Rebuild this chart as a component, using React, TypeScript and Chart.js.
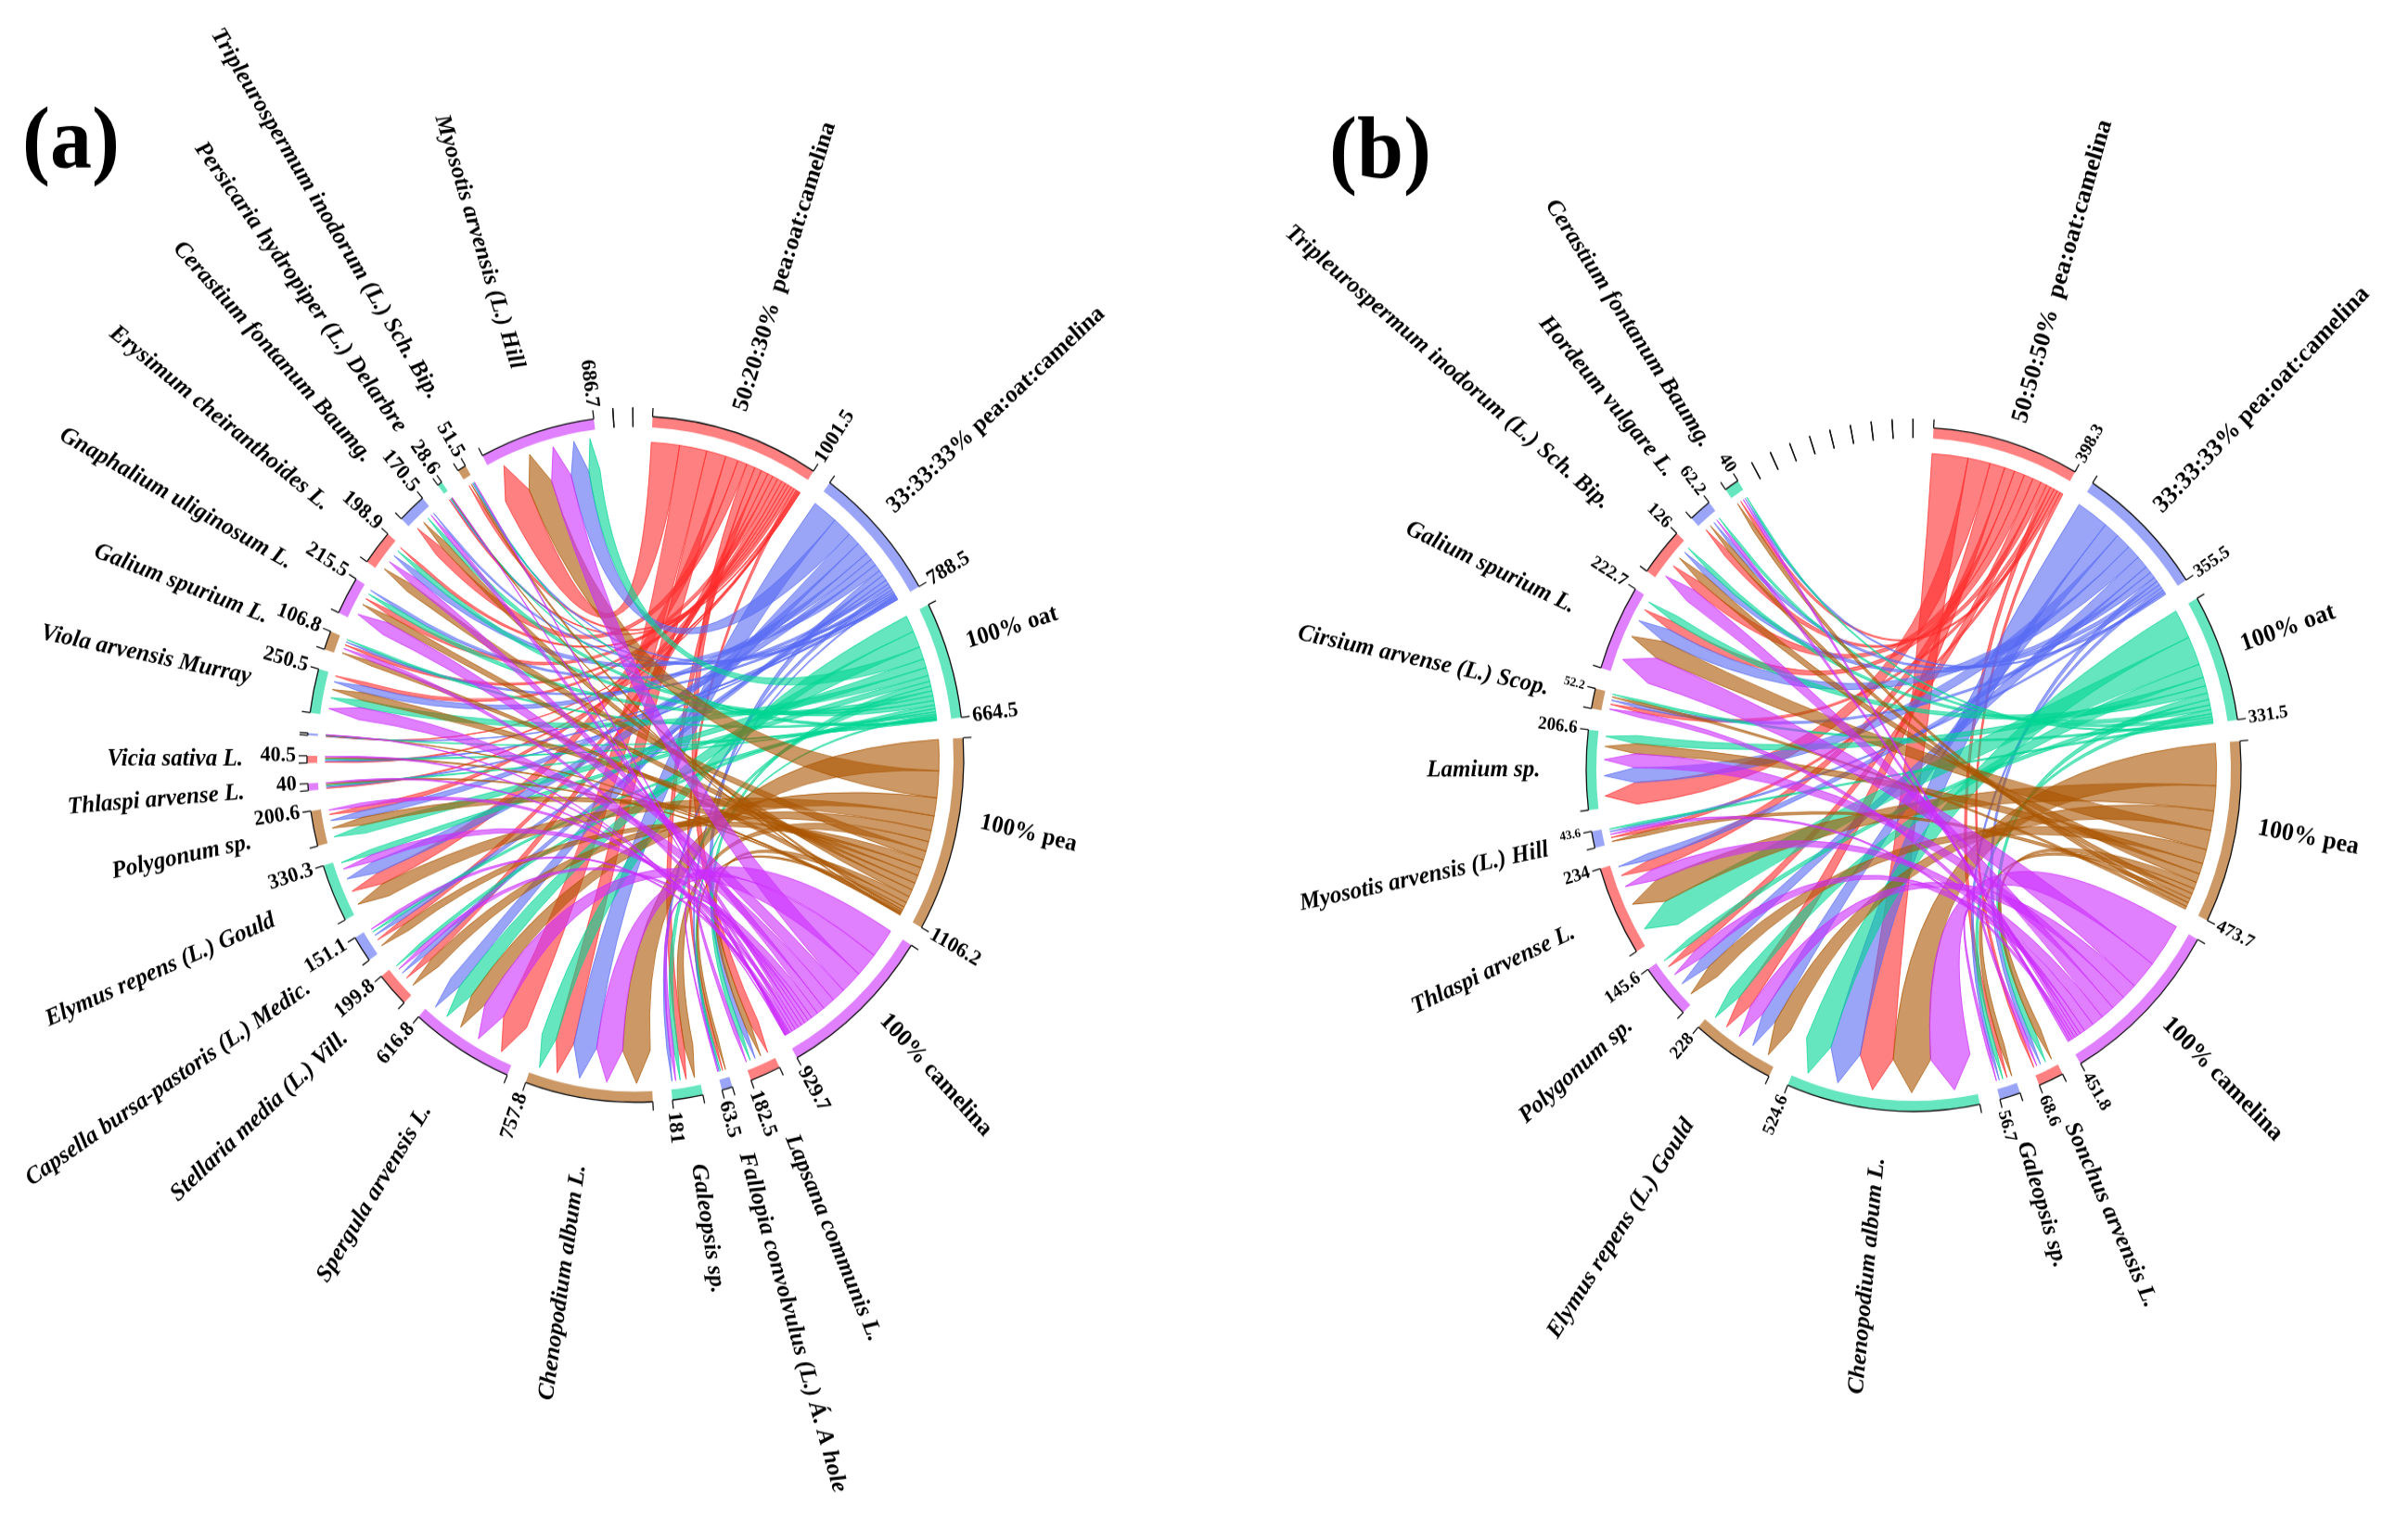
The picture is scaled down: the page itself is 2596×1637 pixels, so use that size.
import React, { useEffect, useRef } from "react";
import { Chart, registerables } from "chart.js";
Chart.register(...registerables);

const treatmentsA = ["50:20:30%  pea:oat:camelina", "33:33:33% pea:oat:camelina", "100% oat", "100% pea", "100% camelina"];
const treatmentTotalsA = [1001.5, 788.5, 664.5, 1106.2, 929.7];
const speciesA = ["Lapsana communis L.", "Fallopia convolvulus (L.) Á. A hole", "Galeopsis sp.", "Chenopodium album L.", "Spergula arvensis L.", "Stellaria media (L.) Vill.", "Capsella bursa-pastoris (L.) Medic.", "Elymus repens (L.) Gould", "Polygonum sp.", "Thlaspi arvense L.", "Vicia sativa L.", "", "Viola arvensis Murray", "Galium spurium L.", "Gnaphalium uliginosum L.", "Erysimum cheiranthoides L.", "Cerastium fontanum Baumg.", "Persicaria hydropiper (L.) Delarbre", "Tripleurospermum inodorum (L.) Sch. Bip.", "Myosotis arvensis (L.) Hill", "", ""];
const speciesTotalsA = [182.5, 63.5, 181, 757.8, 616.8, 199.8, 151.1, 330.3, 200.6, 40, 40.5, 12.5, 250.5, 106.8, 215.5, 198.9, 170.5, 28.6, 51.5, 686.7, 0, 0];
// one row per treatment, one column per species
const flowsA = [
  [55, 18, 45, 125, 175, 45, 35, 80, 30, 8, 8.1, 2.5, 25.5, 22, 35, 20.9, 60, 9, 20, 180, 0, 0],
  [35, 8, 20, 160, 80, 35, 28, 80, 43, 8, 8.1, 2.5, 45, 16, 20.5, 43, 12.5, 7, 8, 125, 0, 0],
  [30, 10, 30, 102.8, 101.8, 21.8, 20, 35.3, 55, 8, 8.1, 2.5, 50, 13.8, 30, 30, 28, 5, 6, 77, 0, 0],
  [40, 20, 60, 190, 110, 70, 50, 90, 50, 8, 8.1, 2.5, 50, 30, 45, 55, 45, 4, 12, 165, 0, 0],
  [22.5, 7.5, 26, 180, 150, 28, 18.1, 45, 22.6, 8, 8.1, 2.5, 80, 25, 85, 50, 25, 3.6, 5.5, 140, 0, 0],
];

const treatmentsB = ["50:50:50%  pea:oat:camelina", "33:33:33% pea:oat:camelina", "100% oat", "100% pea", "100% camelina"];
const treatmentTotalsB = [398.3, 355.5, 331.5, 473.7, 451.8];
const speciesB = ["Sonchus arvensis L.", "Galeopsis sp.", "Chenopodium album L.", "Elymus repens (L.) Gould", "Polygonum sp.", "Thlaspi arvense L.", "Myosotis arvensis (L.) Hill", "Lamium sp.", "Cirsium arvense (L.) Scop.", "Galium spurium L.", "Tripleurospermum inodorum (L.) Sch. Bip.", "Hordeum vulgare L.", "Cerastium fontanum Baumg.", "", "", "", "", "", "", "", "", ""];
const speciesTotalsB = [68.6, 56.7, 524.6, 228, 145.6, 234, 43.6, 206.6, 52.2, 222.7, 126, 62.2, 40, 0, 0, 0, 0, 0, 0, 0, 0, 0];
const flowsB = [
  [8.6, 13, 105, 44, 25, 30, 10, 65, 12, 27, 30, 18, 10],
  [13, 9, 95, 46, 35, 20, 7, 45, 10, 40, 18, 12, 6],
  [18, 12, 81.6, 38, 15.6, 80, 6.6, 24.6, 7.2, 20.7, 13, 8.2, 5],
  [19, 15, 118, 55, 40, 70, 12, 30, 8, 55, 25, 15, 12],
  [10, 7.7, 125, 45, 30, 34, 8, 42, 15, 80, 40, 9, 7],
];

const cycleColors = ["255,43,43", "87,105,243", "0,213,147", "170,85,0", "204,43,255"];
const SCALE_Y = 1.045;
const fmt = (v: number) => String(v);

function makeRibbonPlugin(cfg: any) {
  return {
    id: "ribbons",
    afterDatasetsDraw(chart: any) {
      const ctx = chart.ctx as CanvasRenderingContext2D;
      const arcs = chart.getDatasetMeta(0).data;
      const cx = arcs[0].x, cy = arcs[0].y, R = arcs[0].outerRadius, rIn = arcs[0].innerRadius;
      const nT = cfg.treatments.length;
      const nS = cfg.speciesTotals.length;
      const groupArc = (g: number) => arcs[g * 2];
      const P = (a: number, r: number) => [cx + r * Math.cos(a), cy + r * Math.sin(a)];

      // allocate each group's arc to its flows, largest first clockwise
      const tAlloc: any[] = [], sAlloc: any[] = [];
      cfg.flows.forEach((row: number[], t: number) => {
        const arc = groupArc(t);
        const idx = row.map((_, i) => i).filter((i) => row[i] > 0).sort((a, b) => row[b] - row[a]);
        const sum = idx.reduce((s, i) => s + row[i], 0);
        let a = arc.startAngle;
        const span = arc.endAngle - arc.startAngle;
        tAlloc[t] = {};
        idx.forEach((i) => { const w = (row[i] / sum) * span; tAlloc[t][i] = [a, a + w]; a += w; });
      });
      for (let s = 0; s < nS; s++) {
        const col = cfg.flows.map((r: number[]) => r[s] || 0);
        const arc = groupArc(nT + s);
        const idx = col.map((_: number, i: number) => i).filter((i: number) => col[i] > 0).sort((a: number, b: number) => col[b] - col[a]);
        const sum = idx.reduce((acc: number, i: number) => acc + col[i], 0);
        let a = arc.startAngle;
        const span = arc.endAngle - arc.startAngle;
        sAlloc[s] = {};
        idx.forEach((i: number) => { const w = (col[i] / sum) * span; sAlloc[s][i] = [a, a + w]; a += w; });
      }

      const rEnd = R * 0.925, rShoulder = R * 0.85, rTip = R * 0.945;
      ctx.save();
      for (let t = 0; t < nT; t++) {
        const col = cycleColors[t % 5];
        ctx.fillStyle = `rgba(${col},0.6)`;
        ctx.strokeStyle = `rgba(${col},0.7)`;
        ctx.lineWidth = 1;
        const idx = Object.keys(tAlloc[t]).map(Number).sort((a, b) => (cfg.flows[t][a] - cfg.flows[t][b]));
        for (const s of idx) {
          const [a0, a1] = tAlloc[t][s];
          const [s0, s1] = sAlloc[s][t];
          const sm = (s0 + s1) / 2;
          const ps0 = P(s0, rShoulder), ps1 = P(s1, rShoulder), tip = P(sm, rTip), pt0 = P(a0, rEnd);
          ctx.beginPath();
          ctx.moveTo(pt0[0], pt0[1]);
          ctx.arc(cx, cy, rEnd, a0, a1);
          ctx.quadraticCurveTo(cx, cy, ps0[0], ps0[1]);
          ctx.lineTo(tip[0], tip[1]);
          ctx.lineTo(ps1[0], ps1[1]);
          ctx.quadraticCurveTo(cx, cy, pt0[0], pt0[1]);
          ctx.closePath();
          ctx.fill();
          ctx.stroke();
        }
      }
      ctx.restore();

      // axis line, ticks and radial text
      const names = [...cfg.treatments, ...cfg.species];
      const totals = [...cfg.treatmentTotals, ...cfg.speciesTotals];
      const radial = (text: string, a: number, r: number, font: string, shift = 0) => {
        const p = P(a, r);
        const right = Math.cos(a) >= 0;
        ctx.save();
        ctx.translate(p[0], p[1]);
        ctx.rotate(right ? a : a + Math.PI);
        ctx.textAlign = right ? "left" : "right";
        ctx.textBaseline = "middle";
        ctx.font = font;
        ctx.fillStyle = "#000";
        ctx.fillText(text, 0, shift);
        ctx.restore();
      };
      ctx.save();
      ctx.strokeStyle = "#111";
      ctx.lineWidth = 1.3;
      names.forEach((name: string, g: number) => {
        const arc = groupArc(g);
        ctx.beginPath();
        ctx.arc(cx, cy, R, arc.startAngle, arc.endAngle);
        ctx.stroke();
        [arc.startAngle, arc.endAngle].forEach((a: number) => {
          const p0 = P(a, totals[g] === 0 ? rIn : R), p1 = P(a, R + 9);
          ctx.beginPath();
          ctx.moveTo(p0[0], p0[1]);
          ctx.lineTo(p1[0], p1[1]);
          ctx.stroke();
        });
        if (totals[g] >= 20) {
          const size = cfg.smallValues.includes(totals[g]) ? cfg.valueFont - 6 : cfg.valueFont;
          radial(fmt(totals[g]), arc.endAngle, R + 12, `bold ${size}px "Liberation Serif"`);
        }
        if (name) {
          const mid = (arc.startAngle + arc.endAngle) / 2;
          if (g < nT) radial(name, mid, R * 1.065, `bold ${cfg.treatmentFont}px "Liberation Serif"`, cfg.treatmentShift[g]);
          else radial(name, mid, R * (cfg.labelOverrides[name] || cfg.labelRatio), 'italic bold 25px "Liberation Serif"', cfg.labelShift[name] || 0);
        }
      });
      ctx.restore();

      ctx.save();
      ctx.font = 'bold 90px "Liberation Serif"';
      ctx.fillStyle = "#000";
      ctx.textAlign = "left";
      ctx.textBaseline = "middle";
      ctx.fillText(cfg.title, cfg.titleX, cfg.titleY);
      ctx.restore();
    },
  };
}

function Panel(props: any) {
  const ref = useRef<HTMLCanvasElement>(null);
  useEffect(() => {
    const cfg = props.cfg;
    const groups = [...cfg.treatmentTotals, ...cfg.speciesTotals];
    const data: number[] = [];
    const colors: string[] = [];
    groups.forEach((v: number, i: number) => {
      data.push(v);
      colors.push(`rgba(${cycleColors[i % 5]},0.6)`);
      data.push(cfg.gap);
      colors.push("rgba(0,0,0,0)");
    });
    const chart = new Chart(ref.current as HTMLCanvasElement, {
      type: "doughnut",
      data: { labels: data.map((_, i) => String(i)), datasets: [{ data, backgroundColor: colors, borderWidth: 0 }] },
      options: {
        responsive: false,
        animation: false,
        devicePixelRatio: 1,
        rotation: cfg.rotation,
        radius: cfg.R,
        cutout: "96.9%",
        layout: { padding: cfg.padding },
        plugins: { legend: { display: false }, tooltip: { enabled: false } },
      } as any,
      plugins: [makeRibbonPlugin(cfg)],
    });
    return () => chart.destroy();
  }, []);
  const h = Math.ceil(1637 / SCALE_Y);
  return (
    <canvas
      ref={ref}
      width={1298}
      height={h}
      style={{ position: "absolute", left: props.left, top: 0, width: 1298, height: h, transform: `scaleY(${SCALE_Y})`, transformOrigin: "0 0" }}
    />
  );
}

const cfgA = {
  treatments: treatmentsA, treatmentTotals: treatmentTotalsA, species: speciesA, speciesTotals: speciesTotalsA, flows: flowsA,
  R: 354, gap: 115, rotation: 3, padding: { left: 72, top: 0 }, labelRatio: 1.195, valueFont: 22, treatmentFont: 25, title: "(a)", titleX: 24, titleY: 150,
  treatmentShift: [-3, -8, -12, -20, -12],
  labelOverrides: { "Tripleurospermum inodorum (L.) Sch. Bip.": 1.22 } as Record<string, number>,
  labelShift: { "Tripleurospermum inodorum (L.) Sch. Bip.": -14 } as Record<string, number>,
  smallValues: [] as number[],
};
const cfgB = {
  treatments: treatmentsB, treatmentTotals: treatmentTotalsB, species: speciesB, speciesTotals: speciesTotalsB, flows: flowsB.map((r) => [...r, 0, 0, 0, 0, 0, 0, 0, 0, 0]),
  R: 353, gap: 55, rotation: 3.5, padding: { left: 232, top: 21 }, labelRatio: 1.14, valueFont: 19, treatmentFont: 26, title: "(b)", titleX: 135, titleY: 160,
  treatmentShift: [8, -2, -5, -10, -6],
  labelOverrides: { "Tripleurospermum inodorum (L.) Sch. Bip.": 1.215, "Elymus repens (L.) Gould": 1.235 } as Record<string, number>,
  labelShift: {} as Record<string, number>,
  smallValues: [43.6, 52.2],
};

export default function App() {
  return (
    <div style={{ position: "absolute", left: 0, top: 0, width: 2596, height: 1637, overflow: "hidden", background: "#fff" }}>
      <Panel cfg={cfgA} left={0} />
      <Panel cfg={cfgB} left={1298} />
    </div>
  );
}
